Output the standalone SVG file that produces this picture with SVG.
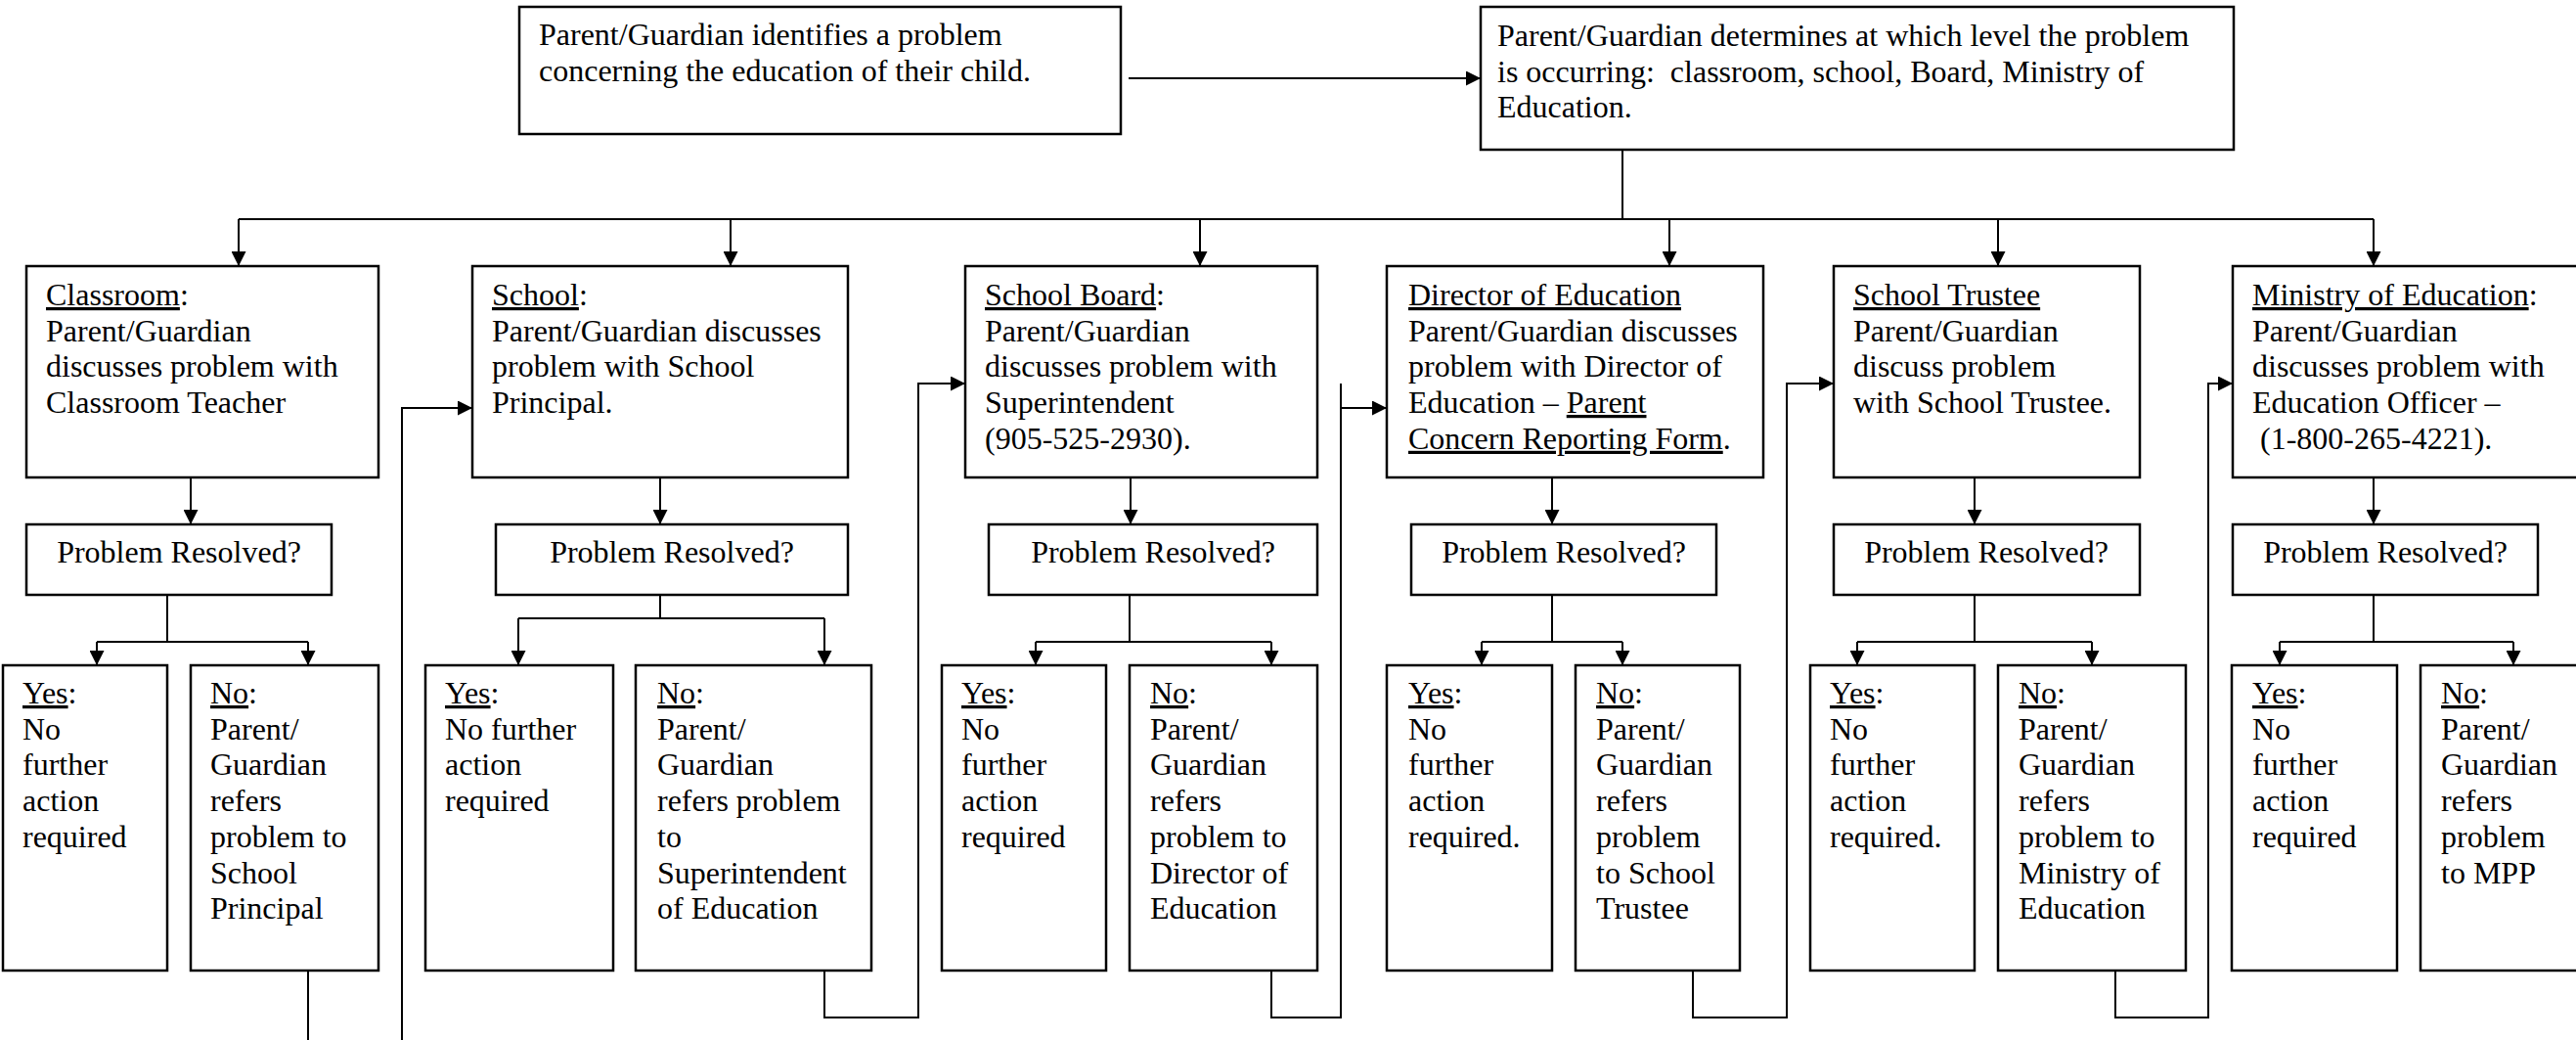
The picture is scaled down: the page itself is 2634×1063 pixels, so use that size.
<svg xmlns="http://www.w3.org/2000/svg" width="2634" height="1063" viewBox="0 0 2634 1063">
<style>
.box{fill:#fff;stroke:#000;stroke-width:2.5}
.t{font-family:"Liberation Serif","Times New Roman",serif;font-size:32px;fill:#000}
.c{fill:none;stroke:#000;stroke-width:2}
.u{text-decoration:underline}
</style>
<defs>
<marker id="ah" markerUnits="userSpaceOnUse" markerWidth="15" markerHeight="15" refX="15" refY="7.5" orient="auto">
<path d="M0,0 L15,7.5 L0,15 z" fill="#000"/>
</marker>
</defs>
<rect width="2634" height="1063" fill="#fff"/>

<g id="n-identify">
<rect class="box" x="531" y="7" width="615" height="130"/>
<text class="t" x="551" y="46"><tspan x="551" y="46">Parent/Guardian identifies a problem</tspan><tspan x="551" y="83">concerning the education of their child.</tspan></text>
</g>
<g id="n-determine">
<rect class="box" x="1514" y="7" width="770" height="146"/>
<text class="t" xml:space="preserve"><tspan x="1531" y="47">Parent/Guardian determines at which level the problem</tspan><tspan x="1531" y="84">is occurring:  classroom, school, Board, Ministry of</tspan><tspan x="1531" y="120">Education.</tspan></text>
</g>

<g id="n-classroom">
<rect class="box" x="27" y="272" width="360" height="216"/>
<text class="t"><tspan x="47" y="312"><tspan class="u">Classroom</tspan>:</tspan><tspan x="47" y="348.7">Parent/Guardian</tspan><tspan x="47" y="385.4">discusses problem with</tspan><tspan x="47" y="422">Classroom Teacher</tspan></text>
</g>
<g id="n-school">
<rect class="box" x="483" y="272" width="384" height="216"/>
<text class="t"><tspan x="503" y="312"><tspan class="u">School</tspan>:</tspan><tspan x="503" y="348.7">Parent/Guardian discusses</tspan><tspan x="503" y="385.4">problem with School</tspan><tspan x="503" y="422">Principal.</tspan></text>
</g>
<g id="n-board">
<rect class="box" x="987" y="272" width="360" height="216"/>
<text class="t"><tspan x="1007" y="312"><tspan class="u">School Board</tspan>:</tspan><tspan x="1007" y="348.7">Parent/Guardian</tspan><tspan x="1007" y="385.4">discusses problem with</tspan><tspan x="1007" y="422">Superintendent</tspan><tspan x="1007" y="458.8">(905-525-2930).</tspan></text>
</g>
<g id="n-director">
<rect class="box" x="1418" y="272" width="385" height="216"/>
<text class="t"><tspan x="1440" y="312" class="u">Director of Education</tspan><tspan x="1440" y="348.7">Parent/Guardian discusses</tspan><tspan x="1440" y="385.4">problem with Director of</tspan><tspan x="1440" y="422">Education – <tspan class="u">Parent</tspan></tspan><tspan x="1440" y="458.8"><tspan class="u">Concern Reporting Form</tspan>.</tspan></text>
</g>
<g id="n-trustee">
<rect class="box" x="1875" y="272" width="313" height="216"/>
<text class="t"><tspan x="1895" y="312" class="u">School Trustee</tspan><tspan x="1895" y="348.7">Parent/Guardian</tspan><tspan x="1895" y="385.4">discuss problem</tspan><tspan x="1895" y="422">with School Trustee.</tspan></text>
</g>
<g id="n-ministry">
<rect class="box" x="2283" y="272" width="360" height="216"/>
<text class="t" xml:space="preserve"><tspan x="2303" y="312"><tspan class="u">Ministry of Education</tspan>:</tspan><tspan x="2303" y="348.7">Parent/Guardian</tspan><tspan x="2303" y="385.4">discusses problem with</tspan><tspan x="2303" y="422">Education Officer –</tspan><tspan x="2303" y="458.8"> (1-800-265-4221).</tspan></text>
</g>

<g id="n-pr1"><rect class="box" x="27" y="536" width="312" height="72"/><text class="t" x="183" y="575" text-anchor="middle">Problem Resolved?</text></g>
<g id="n-pr2"><rect class="box" x="507" y="536" width="360" height="72"/><text class="t" x="687" y="575" text-anchor="middle">Problem Resolved?</text></g>
<g id="n-pr3"><rect class="box" x="1011" y="536" width="336" height="72"/><text class="t" x="1179" y="575" text-anchor="middle">Problem Resolved?</text></g>
<g id="n-pr4"><rect class="box" x="1443" y="536" width="312" height="72"/><text class="t" x="1599" y="575" text-anchor="middle">Problem Resolved?</text></g>
<g id="n-pr5"><rect class="box" x="1875" y="536" width="313" height="72"/><text class="t" x="2031" y="575" text-anchor="middle">Problem Resolved?</text></g>
<g id="n-pr6"><rect class="box" x="2283" y="536" width="312" height="72"/><text class="t" x="2439" y="575" text-anchor="middle">Problem Resolved?</text></g>

<g id="n-yes1"><rect class="box" x="3" y="680" width="168" height="312"/>
<text class="t"><tspan x="23" y="719"><tspan class="u">Yes</tspan>:</tspan><tspan x="23" y="755.7">No</tspan><tspan x="23" y="792.4">further</tspan><tspan x="23" y="829">action</tspan><tspan x="23" y="865.8">required</tspan></text></g>
<g id="n-no1"><rect class="box" x="195" y="680" width="192" height="312"/>
<text class="t"><tspan x="215" y="719"><tspan class="u">No</tspan>:</tspan><tspan x="215" y="755.7">Parent/</tspan><tspan x="215" y="792.4">Guardian</tspan><tspan x="215" y="829">refers</tspan><tspan x="215" y="865.8">problem to</tspan><tspan x="215" y="902.5">School</tspan><tspan x="215" y="939">Principal</tspan></text></g>

<g id="n-yes2"><rect class="box" x="435" y="680" width="192" height="312"/>
<text class="t"><tspan x="455" y="719"><tspan class="u">Yes</tspan>:</tspan><tspan x="455" y="755.7">No further</tspan><tspan x="455" y="792.4">action</tspan><tspan x="455" y="829">required</tspan></text></g>
<g id="n-no2"><rect class="box" x="650" y="680" width="241" height="312"/>
<text class="t"><tspan x="672" y="719"><tspan class="u">No</tspan>:</tspan><tspan x="672" y="755.7">Parent/</tspan><tspan x="672" y="792.4">Guardian</tspan><tspan x="672" y="829">refers problem</tspan><tspan x="672" y="865.8">to</tspan><tspan x="672" y="902.5">Superintendent</tspan><tspan x="672" y="939">of Education</tspan></text></g>

<g id="n-yes3"><rect class="box" x="963" y="680" width="168" height="312"/>
<text class="t"><tspan x="983" y="719"><tspan class="u">Yes</tspan>:</tspan><tspan x="983" y="755.7">No</tspan><tspan x="983" y="792.4">further</tspan><tspan x="983" y="829">action</tspan><tspan x="983" y="865.8">required</tspan></text></g>
<g id="n-no3"><rect class="box" x="1155" y="680" width="192" height="312"/>
<text class="t"><tspan x="1176" y="719"><tspan class="u">No</tspan>:</tspan><tspan x="1176" y="755.7">Parent/</tspan><tspan x="1176" y="792.4">Guardian</tspan><tspan x="1176" y="829">refers</tspan><tspan x="1176" y="865.8">problem to</tspan><tspan x="1176" y="902.5">Director of</tspan><tspan x="1176" y="939">Education</tspan></text></g>

<g id="n-yes4"><rect class="box" x="1418" y="680" width="169" height="312"/>
<text class="t"><tspan x="1440" y="719"><tspan class="u">Yes</tspan>:</tspan><tspan x="1440" y="755.7">No</tspan><tspan x="1440" y="792.4">further</tspan><tspan x="1440" y="829">action</tspan><tspan x="1440" y="865.8">required.</tspan></text></g>
<g id="n-no4"><rect class="box" x="1611" y="680" width="168" height="312"/>
<text class="t"><tspan x="1632" y="719"><tspan class="u">No</tspan>:</tspan><tspan x="1632" y="755.7">Parent/</tspan><tspan x="1632" y="792.4">Guardian</tspan><tspan x="1632" y="829">refers</tspan><tspan x="1632" y="865.8">problem</tspan><tspan x="1632" y="902.5">to School</tspan><tspan x="1632" y="939">Trustee</tspan></text></g>

<g id="n-yes5"><rect class="box" x="1851" y="680" width="168" height="312"/>
<text class="t"><tspan x="1871" y="719"><tspan class="u">Yes</tspan>:</tspan><tspan x="1871" y="755.7">No</tspan><tspan x="1871" y="792.4">further</tspan><tspan x="1871" y="829">action</tspan><tspan x="1871" y="865.8">required.</tspan></text></g>
<g id="n-no5"><rect class="box" x="2043" y="680" width="192" height="312"/>
<text class="t"><tspan x="2064" y="719"><tspan class="u">No</tspan>:</tspan><tspan x="2064" y="755.7">Parent/</tspan><tspan x="2064" y="792.4">Guardian</tspan><tspan x="2064" y="829">refers</tspan><tspan x="2064" y="865.8">problem to</tspan><tspan x="2064" y="902.5">Ministry of</tspan><tspan x="2064" y="939">Education</tspan></text></g>

<g id="n-yes6"><rect class="box" x="2282" y="680" width="169" height="312"/>
<text class="t"><tspan x="2303" y="719"><tspan class="u">Yes</tspan>:</tspan><tspan x="2303" y="755.7">No</tspan><tspan x="2303" y="792.4">further</tspan><tspan x="2303" y="829">action</tspan><tspan x="2303" y="865.8">required</tspan></text></g>
<g id="n-no6"><rect class="box" x="2475" y="680" width="170" height="312"/>
<text class="t"><tspan x="2496" y="719"><tspan class="u">No</tspan>:</tspan><tspan x="2496" y="755.7">Parent/</tspan><tspan x="2496" y="792.4">Guardian</tspan><tspan x="2496" y="829">refers</tspan><tspan x="2496" y="865.8">problem</tspan><tspan x="2496" y="902.5">to MPP</tspan></text></g>

<g id="connectors">
<path class="c" d="M1154,80 H1514" marker-end="url(#ah)"/>
<path class="c" d="M1659,153 V224"/>
<path class="c" d="M244,224 H2427"/>
<path class="c" d="M244,224 V272" marker-end="url(#ah)"/>
<path class="c" d="M747,224 V272" marker-end="url(#ah)"/>
<path class="c" d="M1227,224 V272" marker-end="url(#ah)"/>
<path class="c" d="M1707,224 V272" marker-end="url(#ah)"/>
<path class="c" d="M2043,224 V272" marker-end="url(#ah)"/>
<path class="c" d="M2427,224 V272" marker-end="url(#ah)"/>

<path class="c" d="M195,488 V536" marker-end="url(#ah)"/>
<path class="c" d="M675,488 V536" marker-end="url(#ah)"/>
<path class="c" d="M1156,488 V536" marker-end="url(#ah)"/>
<path class="c" d="M1587,488 V536" marker-end="url(#ah)"/>
<path class="c" d="M2019,488 V536" marker-end="url(#ah)"/>
<path class="c" d="M2427,488 V536" marker-end="url(#ah)"/>

<path class="c" d="M171,608 V656"/>
<path class="c" d="M99,656 H315"/>
<path class="c" d="M99,656 V680" marker-end="url(#ah)"/>
<path class="c" d="M315,656 V680" marker-end="url(#ah)"/>

<path class="c" d="M675,608 V632"/>
<path class="c" d="M530,632 H843"/>
<path class="c" d="M530,632 V680" marker-end="url(#ah)"/>
<path class="c" d="M843,632 V680" marker-end="url(#ah)"/>

<path class="c" d="M1155,608 V656"/>
<path class="c" d="M1059,656 H1300"/>
<path class="c" d="M1059,656 V680" marker-end="url(#ah)"/>
<path class="c" d="M1300,656 V680" marker-end="url(#ah)"/>

<path class="c" d="M1587,608 V656"/>
<path class="c" d="M1515,656 H1659"/>
<path class="c" d="M1515,656 V680" marker-end="url(#ah)"/>
<path class="c" d="M1659,656 V680" marker-end="url(#ah)"/>

<path class="c" d="M2019,608 V656"/>
<path class="c" d="M1899,656 H2139"/>
<path class="c" d="M1899,656 V680" marker-end="url(#ah)"/>
<path class="c" d="M2139,656 V680" marker-end="url(#ah)"/>

<path class="c" d="M2427,608 V656"/>
<path class="c" d="M2331,656 H2570"/>
<path class="c" d="M2331,656 V680" marker-end="url(#ah)"/>
<path class="c" d="M2570,656 V680" marker-end="url(#ah)"/>

<path class="c" d="M315,992 V1070"/>
<path class="c" d="M411,1070 V417 H483" marker-end="url(#ah)"/>
<path class="c" d="M843,992 V1040 H939 V392 H987" marker-end="url(#ah)"/>
<path class="c" d="M1300,992 V1040 H1371 V392"/>
<path class="c" d="M1371,417 H1418" marker-end="url(#ah)"/>
<path class="c" d="M1731,992 V1040 H1827 V392 H1875" marker-end="url(#ah)"/>
<path class="c" d="M2163,992 V1040 H2258 V392 H2283" marker-end="url(#ah)"/>
</g>
</svg>
